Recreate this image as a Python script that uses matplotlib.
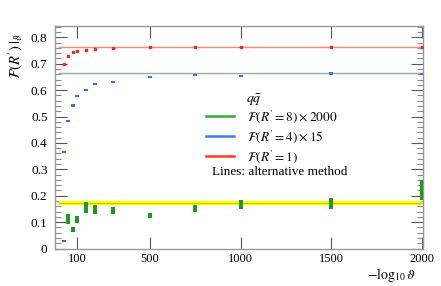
import matplotlib
matplotlib.use('Agg')
import matplotlib.pyplot as plt
from matplotlib.lines import Line2D
from matplotlib.ticker import MultipleLocator, FixedLocator, FixedFormatter

plt.rcParams['font.family'] = ['Liberation Serif', 'DejaVu Serif']
plt.rcParams['mathtext.fontset'] = 'stix'

# ---- data ----
x_vals = [25, 50, 75, 100, 150, 200, 300, 500, 750, 1000, 1500, 2000]
red_vals = [0.698, 0.731, 0.744, 0.747, 0.751, 0.756, 0.761, 0.763, 0.763, 0.763, 0.764, 0.762]
blue_vals = [0.367, 0.484, 0.542, 0.577, 0.601, 0.624, 0.631, 0.650, 0.656, 0.652, 0.663, 0.662]
green_lo = [0.026, 0.093, 0.063, 0.096, 0.136, 0.130, 0.130, 0.116, 0.139, 0.148, 0.149, 0.184]
green_hi = [0.033, 0.130, 0.080, 0.124, 0.178, 0.165, 0.156, 0.134, 0.166, 0.184, 0.192, 0.258]
red_line = 0.765
blue_line = 0.665
green_line = 0.171
line_x = [0, 2000]

xticks = [100, 500, 1000, 1500, 2000]
xtick_labels = ['100', '500', '1000', '1500', '2000']
yticks = [0, 0.1, 0.2, 0.3, 0.4, 0.5, 0.6, 0.7, 0.8]
ytick_labels = ['0', '0.1', '0.2', '0.3', '0.4', '0.5', '0.6', '0.7', '0.8']
legend_labels = [r"$\mathcal{F}(R'=8)\times 2000$",
                 r"$\mathcal{F}(R'=4)\times 15$",
                 r"$\mathcal{F}(R'=1)$"]
legend_title = r'$q\bar{q}$'
note_text = 'Lines: alternative method'
ylabel_text = r"$\mathcal{F}(R')\,|_{\vartheta}$"
xlabel_text = r'$-\log_{10}\vartheta$'

W, H = 441, 286
fig = plt.figure(figsize=(W / 100, H / 100), dpi=100)
L, R, T, B = 54.5, 423, 26, 248.5
ax = fig.add_axes([L / W, 1 - B / H, (R - L) / W, (B - T) / H])

# lines
ax.plot(line_x, [red_line] * 2, color='#f58a78', lw=1.0, zorder=2)
ax.plot(line_x, [blue_line] * 2, color='#8fb0a2', lw=1.0, zorder=2)
ax.plot(line_x, [green_line] * 2, color='#ffff00', lw=3.2, zorder=2, solid_capstyle='butt')
ax.plot(line_x, [green_line] * 2, color='#b8b800', lw=0.6, zorder=2)

# green bars
hts = [h - l for h, l in zip(green_hi, green_lo)]
ax.bar(x_vals, hts, bottom=green_lo, width=22, color='#1f9a1f', zorder=3)
# blue marks
ax.bar(x_vals, [0.008] * len(x_vals), bottom=[v - 0.004 for v in blue_vals],
       width=22, color='#3d6ff0', zorder=3)
# red marks
ax.errorbar(x_vals, red_vals, xerr=6, yerr=0.003, fmt='s', ms=1.6, color='#e03020',
            lw=0.7, capsize=0, zorder=4)

ax.set_xlim(-25, 2005)
ax.set_ylim(0, 0.843)
ax.xaxis.set_major_locator(FixedLocator(xticks))
ax.xaxis.set_major_formatter(FixedFormatter(xtick_labels))
ax.yaxis.set_major_locator(FixedLocator(yticks))
ax.yaxis.set_major_formatter(FixedFormatter(ytick_labels))
ax.yaxis.set_minor_locator(MultipleLocator(0.02))
ax.tick_params(which='both', direction='in', top=True, right=True, labelsize=9.5,
               color='#555555')
ax.tick_params(which='major', length=8.5, width=0.8, pad=5)
ax.tick_params(axis='x', which='major', pad=3, labelsize=9)
ax.tick_params(which='minor', length=4.3, width=0.8, color='#888888')
for s in ax.spines.values():
    s.set_color('#999999')
    s.set_linewidth(1.0)

fig.text(16 / W, 1 - 56 / H, ylabel_text, rotation=90, fontsize=10.5,
         ha='center', va='center')
fig.text(416 / W, 1 - 275 / H, xlabel_text, fontsize=10, ha='right', va='center')

handles = [Line2D([], [], color='#33aa33', lw=1.8),
           Line2D([], [], color='#3a7aff', lw=1.8),
           Line2D([], [], color='#ff3a1a', lw=1.8)]
fig.legend(handles, legend_labels, loc='upper left', bbox_to_anchor=(206 / W, 1 - 108 / H),
           frameon=False, fontsize=9.5, handlelength=2.1, handletextpad=1.0,
           labelspacing=0.25, borderaxespad=0, borderpad=0)
fig.text(246 / W, 1 - 100 / H, legend_title, fontsize=10, ha='left', va='center')
fig.text(212 / W, 1 - 172 / H, note_text, fontsize=9.5, ha='left', va='center')

fig.savefig('out.png', dpi=100)
